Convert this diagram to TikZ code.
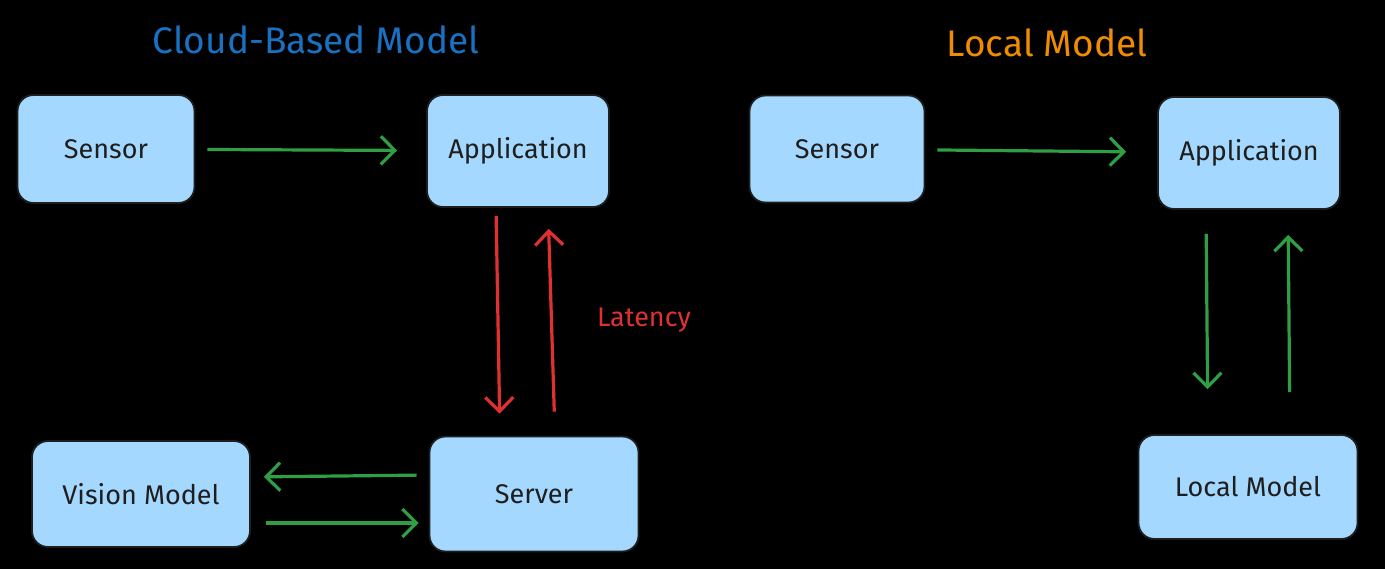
\documentclass[tikz,border=0pt]{standalone}
\usepackage{fontspec}
\setmainfont{Fira Sans}
\usetikzlibrary{arrows.meta,positioning}
\definecolor{boxfill}{HTML}{A5D8FF}
\definecolor{boxline}{HTML}{1E1E1E}
\definecolor{flowgreen}{HTML}{2F9E44}
\definecolor{lagred}{HTML}{E03131}
\definecolor{cloudblue}{HTML}{1971C2}
\definecolor{localorange}{HTML}{F08C00}

\begin{document}
\begin{tikzpicture}[x=1pt, y=-1pt,
    block/.style={draw=boxline, line width=1.8pt, fill=boxfill, rounded corners=16pt,
        font=\fontsize{27}{30}\selectfont, text=boxline},
    flow/.style={draw=flowgreen, line width=3.2pt, -{Straight Barb[length=14pt,width=28pt]}},
    lag/.style={draw=lagred, line width=3.2pt, -{Straight Barb[length=14pt,width=28pt]}},
    heading/.style={font=\fontsize{37}{42}\selectfont}]
    \fill[black] (0,0) rectangle (1385,569);
    \useasboundingbox (0,0) rectangle (1385,569);

    % titles
    \node[heading, text=cloudblue] (cloudtitle) at (316,40) {Cloud-Based Model};
    \node[heading, text=localorange] (localtitle) at (1047,43) {Local Model};

    % cloud-based side
    \node[block, minimum width=177pt, minimum height=108pt] (sensorL) at (106,149) {Sensor};
    \node[block, minimum width=182pt, minimum height=112pt] (appL) at (518,151) {Application};
    \node[block, minimum width=218pt, minimum height=106pt] (vision) at (141,494) {Vision Model};
    \node[block, minimum width=209pt, minimum height=115pt] (server) at (534,494) {Server};
    \node[text=lagred, font=\fontsize{27}{30}\selectfont] (latency) at (644,320) {Latency};

    % local side
    \node[block, minimum width=175pt, minimum height=107pt] (sensorR) at (837,149) {Sensor};
    \node[block, minimum width=182pt, minimum height=112pt] (appR) at (1249,153) {Application};
    \node[block, minimum width=219pt, minimum height=104pt] (localmodel) at (1248,487) {Local Model};

    % connectors
    \draw[flow, shorten <=12pt, shorten >=29pt] (sensorL) -- (appL);
    \draw[lag, shorten <=8pt, shorten >=22pt] ([xshift=-22pt]appL.south) -- ([xshift=-34pt]server.north);
    \draw[lag, shorten <=24pt, shorten >=21pt] ([xshift=21pt]server.north) -- ([xshift=30pt]appL.south);
    \draw[flow, shorten <=12pt, shorten >=13pt] ([yshift=19pt]server.west) -- ([yshift=17pt]vision.east);
    \draw[flow, shorten <=15pt, shorten >=10pt] ([yshift=-29pt]vision.east) -- ([yshift=-29pt]server.west);

    \draw[flow, shorten <=12pt, shorten >=31pt] (sensorR) -- (appR);
    \draw[flow, shorten <=24pt, shorten >=45pt] ([xshift=-43pt]appR.south) -- ([xshift=-40pt]localmodel.north);
    \draw[flow, shorten <=42pt, shorten >=25pt] ([xshift=42pt]localmodel.north) -- ([xshift=39pt]appR.south);
\end{tikzpicture}
\end{document}
